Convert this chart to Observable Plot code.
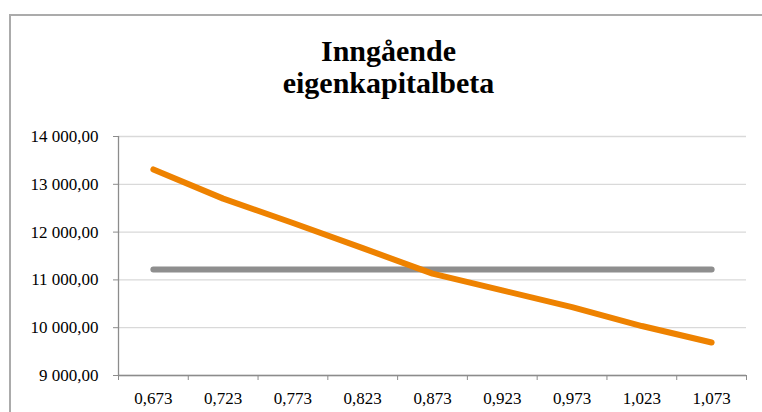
<!DOCTYPE html>
<html>
<head>
<meta charset="utf-8">
<script src="https://cdn.jsdelivr.net/npm/d3@7"></script>
<script src="https://cdn.jsdelivr.net/npm/@observablehq/plot@0.6"></script>
<style>
  html, body { margin: 0; padding: 0; background: #fff; }
  #wrap { position: relative; width: 762px; height: 412px; overflow: hidden; }
  #frame { position: absolute; left: 9px; top: 14px; width: 800px; height: 450px;
           border-left: 2px solid #ababab; border-top: 2px solid #ababab; box-sizing: border-box; }
  #chart { position: absolute; left: 0; top: 0; }
  #chart svg, #chart svg text, #chart svg g { font-family: 'Liberation Serif', 'Times New Roman', serif !important; }
  #chart svg g[aria-label$="tick label"] { font-size: 17px !important; }
</style>
</head>
<body>
<div id="wrap"><div id="frame"></div><div id="chart"></div></div>
<script>
const title = "Inngående\neigenkapitalbeta";
const categories = ["0,673", "0,723", "0,773", "0,823", "0,873", "0,923", "0,973", "1,023", "1,073"];
const orangeValues = [13310, 12700, 12190, 11665, 11130, 10780, 10430, 10035, 9690];
const grayValues = [11220, 11220, 11220, 11220, 11220, 11220, 11220, 11220, 11220];
const yTicks = [9000, 10000, 11000, 12000, 13000, 14000];

const n = categories.length;
const orange = orangeValues.map((v, i) => ({i, v}));
const gray = grayValues.map((v, i) => ({i, v}));
const fmtY = v => d3.format(",.2f")(v).replace(/,/g, " ").replace(".", ",");
const serif = "'Liberation Serif', 'Times New Roman', serif";

const chart = Plot.plot({
  width: 762,
  height: 412,
  marginLeft: 118,
  marginRight: 16,
  marginTop: 136,
  marginBottom: 37,
  style: {fontFamily: serif, fontSize: "17px", color: "#000", background: "transparent"},
  x: {type: "linear", domain: [-0.5, n - 0.5]},
  y: {domain: [9000, 14000]},
  marks: [
    Plot.gridY(yTicks, {stroke: "#d9d9d9", strokeOpacity: 1, strokeWidth: 1.3}),
    Plot.axisY(yTicks, {tickFormat: fmtY, tickSize: 5, tickPadding: 15, stroke: "#8c8c8c", fontSize: 17, fontFamily: serif, label: null}),
    Plot.axisX(d3.range(n), {tickFormat: i => categories[i], tickSize: 0, tickPadding: 16, fontSize: 17, fontFamily: serif, label: null}),
    Plot.axisX(d3.range(n + 1).map(i => i - 0.5), {tickFormat: () => "", tickSize: 5, stroke: "#8c8c8c", label: null}),
    Plot.ruleY([9000], {stroke: "#8c8c8c", strokeWidth: 1.3}),
    Plot.ruleX([-0.5], {stroke: "#8c8c8c", strokeWidth: 1.3}),
    Plot.line(gray, {x: "i", y: "v", stroke: "#8e8e8e", strokeWidth: 6, strokeLinecap: "round"}),
    Plot.line(orange, {x: "i", y: "v", stroke: "#ee8200", strokeWidth: 6, strokeLinecap: "round", strokeLinejoin: "round"}),
    Plot.text([title], {frameAnchor: "top", lineAnchor: "top", dy: -98, dx: -44, text: d => d, fontSize: 30, fontFamily: serif, fontWeight: "bold", lineHeight: 1.06, fill: "#000", textAnchor: "middle"})
  ]
});
document.getElementById("chart").appendChild(chart);
</script>
</body>
</html>
